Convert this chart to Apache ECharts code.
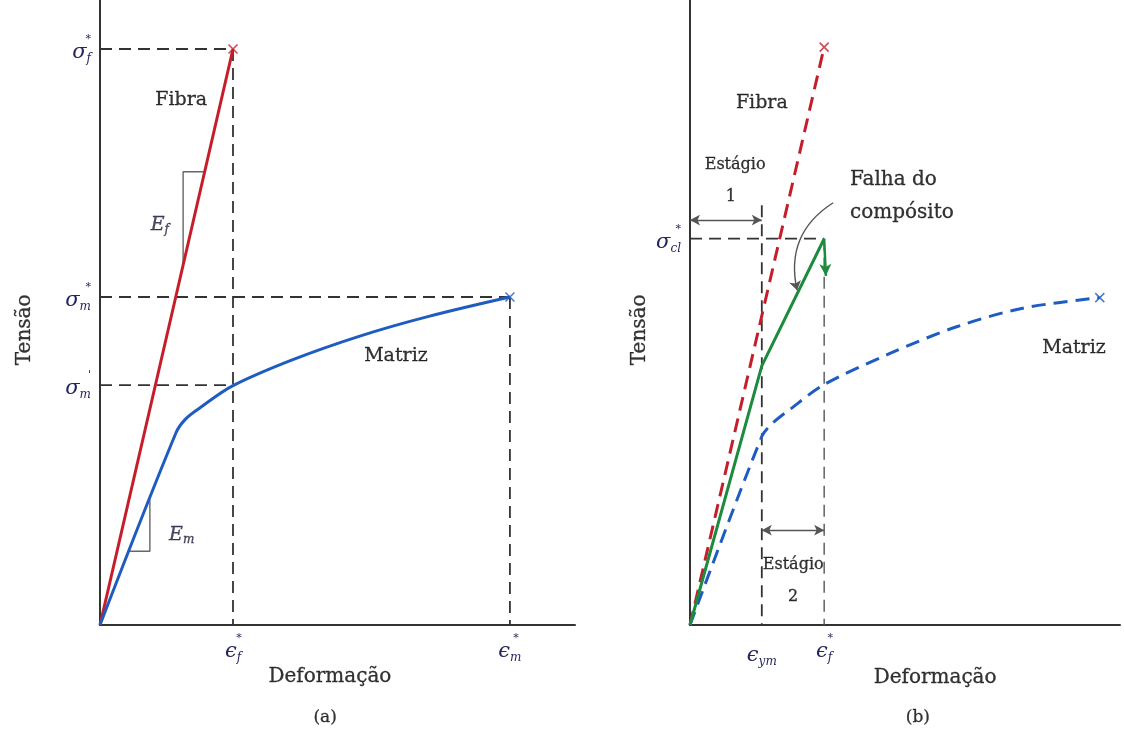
<!DOCTYPE html>
<html><head><meta charset="utf-8">
<script src="https://cdn.jsdelivr.net/npm/echarts@6/dist/echarts.min.js"></script>
<style>html,body{margin:0;padding:0;background:#fff}#c{width:1124px;height:737px}</style>
</head><body><div id="c"></div>
<script>
// ---------- Panel (a) ----------
const epsFa = 28.0, epsMa = 86.3;          // strain ticks (a)
const sigFa = 92.9, sigMa = 52.9, sigMpa = 38.7; // stress ticks (a)
const fibraA = [[0,0],[epsFa,sigFa]];
const matrizA = [[0,0],[16.0,31.0],[18.0,33.2],[21.0,35.0],[28.0,38.6],[40.6,42.8],[54.7,46.6],[68.8,49.7],[86.3,52.9]];
const efTri = [[17.5,58.0],[17.5,73.1],[22.0,73.1]];
const emTri = [[10.5,20.2],[10.5,11.9],[6.3,11.9]];
// ---------- Panel (b) ----------
const epsYm = 16.7, epsFb = 31.2;   // strain ticks (b)
const sigCl = 62.3;                 // stress tick (b)
const fibraB = [[0,0],[31.2,93.2]];
const matrizB = [[0,0],[16.7,30.4],[19.3,32.6],[23.3,34.8],[31.0,38.7],[46.5,43.8],[62.0,48.1],[77.4,51.1],[95.3,52.8]];
const compB = [[0,0],[16.7,41.8],[31.2,62.3]];
const compDrop = [[31.2,62.3],[31.6,56.3]];
const stage1Y = 65.3, stage2Y = 15.3;
const failArrow = [[33.3,68.1],[24.9,54.0]];

const RED='#c41e2b', BLUE='#1f5cc0', GREEN='#1d8a3d', INK='#333', NAVY='#26265e';
const SERIF='DejaVu Serif';

const rich = {
  g:{fontFamily:SERIF,fontStyle:'italic',fontSize:21,color:NAVY,lineHeight:20},
  sub:{fontFamily:SERIF,fontStyle:'italic',fontSize:12,color:NAVY,lineHeight:20,padding:[12,0,0,0]},
  sup:{fontFamily:SERIF,fontSize:11,color:NAVY,lineHeight:8},
  supx:{fontFamily:SERIF,fontSize:11,color:NAVY,lineHeight:8,padding:[0,0,0,12]},
  e:{fontFamily:SERIF,fontStyle:'italic',fontSize:19,color:'#1e1e40'},
  s:{fontFamily:SERIF,fontStyle:'italic',fontSize:12,color:'#1e1e40',padding:[10,0,0,0]}
};
const yLabA = {}; yLabA[sigFa]='{sup|*}\n{g|σ}{sub|f}'; yLabA[sigMa]='{sup|*}\n{g|σ}{sub|m}'; yLabA[sigMpa]="{sup|'}\n{g|σ}{sub|m}";
const xLabA = {}; xLabA[epsFa]='{supx|*}\n{g|ϵ}{sub|f}'; xLabA[epsMa]='{supx|*}\n{g|ϵ}{sub|m}';
const yLabB = {}; yLabB[sigCl]='{sup|*}\n{g|σ}{sub|cl}';
const xLabB = {}; xLabB[epsYm]='\n{g|ϵ}{sub|ym}'; xLabB[epsFb]='{supx|*}\n{g|ϵ}{sub|f}';

function xAxis(gi, max, vals, map){
  return {type:'value',gridIndex:gi,min:0,max:max,
    axisLine:{show:true,onZero:false,lineStyle:{color:INK,width:2}},
    axisTick:{show:false},splitLine:{show:false},
    axisLabel:{customValues:vals,margin:9,formatter:v=>map[v]||'',rich:rich}};
}
function yAxis(gi, max, vals, map){
  return {type:'value',gridIndex:gi,min:0,max:max,
    axisLine:{show:true,onZero:false,lineStyle:{color:INK,width:2}},
    axisTick:{show:false},splitLine:{show:false},
    axisLabel:{customValues:vals,margin:9,formatter:v=>map[v]||'',rich:rich}};
}
function line(gi, data, color, width, dash, extra){
  return Object.assign({type:'line',xAxisIndex:gi,yAxisIndex:gi,data:data,symbol:'none',silent:true,
    lineStyle:{color:color,width:width,type:dash||'solid'},z:3},extra||{});
}
function cross(gi, pt, color){
  return {type:'scatter',xAxisIndex:gi,yAxisIndex:gi,data:[pt],symbol:'path://M0,0L10,10M10,0L0,10',symbolSize:9,
    itemStyle:{color:'none',borderColor:color,borderWidth:1.6},silent:true,z:5};
}
function texts(gi, items){
  return {type:'scatter',xAxisIndex:gi,yAxisIndex:gi,symbolSize:0,clip:false,silent:true,z:6,
    data:items.map(it=>({value:it.at,label:Object.assign({show:true,position:'inside',formatter:it.t,
      fontFamily:SERIF,fontSize:19,color:'#000',textBorderColor:'#000',textBorderWidth:0.3,align:it.align||'center',rich:rich},it.style||{})}))};
}
const DASH=[12,7];
const series = [
  // panel a guides
  line(0, [[0,sigFa],[epsFa,sigFa]], INK, 1.8, DASH),
  line(0, [[epsFa,sigFa],[epsFa,0]], INK, 1.8, DASH),
  line(0, [[0,sigMa],[epsMa,sigMa]], INK, 1.8, DASH),
  line(0, [[epsMa,sigMa],[epsMa,0]], INK, 1.8, DASH),
  line(0, [[0,sigMpa],[epsFa,sigMpa]], INK, 1.8, DASH),
  line(0, efTri, '#666', 1.4),
  line(0, emTri, '#666', 1.4),
  line(0, fibraA, RED, 3),
  line(0, matrizA, BLUE, 3, 'solid', {smooth:0.35}),
  cross(0, fibraA[fibraA.length-1], RED),
  cross(0, matrizA[matrizA.length-1], BLUE),
  texts(0, [
    {t:'Fibra', at:[17.1,84.7]},
    {t:'Matriz', at:[62.3,43.4]},
    {t:'{e|E}{s|f}', at:[12.6,64.5]},
    {t:'{e|E}{s|m}', at:[17.2,14.5]},
    {t:'Tensão', at:[-15.8,47.6], style:{rotate:90,fontSize:20}},
    {t:'Deformação', at:[48.4,-8.4], style:{fontSize:20}},
    {t:'(a)', at:[47.4,-15.0], style:{fontSize:17}}
  ]),
  // panel b guides
  line(1, [[0,sigCl],[epsFb,sigCl]], INK, 1.8, DASH),
  line(1, [[epsYm,67.7],[epsYm,0]], INK, 1.8, DASH),
  line(1, [[epsFb,sigCl],[epsFb,0]], '#555', 1.4, DASH),
  line(1, fibraB, RED, 3, [14,8]),
  line(1, matrizB, BLUE, 3, [14,8], {smooth:0.3}),
  line(1, compB, GREEN, 3, 'solid', {z:4,
    markLine:{silent:true,symbol:['none','arrow'],symbolSize:[9,12],label:{show:false},
      lineStyle:{color:GREEN,width:2.5,type:'solid'},
      data:[[{coord:compDrop[0]},{coord:compDrop[1]}]]}}),
  line(1, [[0,0]], INK, 1, 'solid', {
    markLine:{silent:true,symbol:['arrow','arrow'],symbolSize:[8,10],label:{show:false},
      lineStyle:{color:'#555',width:1.4,type:'solid'},
      data:[[{coord:[0,stage1Y]},{coord:[epsYm,stage1Y]}],[{coord:[epsYm,stage2Y]},{coord:[epsFb,stage2Y]}]]}}),
  {type:'lines',coordinateSystem:'cartesian2d',xAxisIndex:1,yAxisIndex:1,silent:true,z:5,
    symbol:['none','arrow'],symbolSize:9,
    lineStyle:{color:'#555',width:1.4,curveness:-0.35,opacity:1},
    data:[{coords:failArrow}]},
  cross(1, fibraB[fibraB.length-1], RED),
  cross(1, matrizB[matrizB.length-1], BLUE),
  texts(1, [
    {t:'Fibra', at:[16.7,84.2]},
    {t:'Matriz', at:[89.3,44.7]},
    {t:'Estágio', at:[10.5,74.2], style:{fontSize:16}},
    {t:'1', at:[9.5,69.0], style:{fontSize:16}},
    {t:'Estágio', at:[24.0,9.7], style:{fontSize:16}},
    {t:'2', at:[24.0,4.5], style:{fontSize:16}},
    {t:'Falha do', at:[37.2,71.8], align:'left', style:{fontSize:20}},
    {t:'compósito', at:[37.2,66.5], align:'left', style:{fontSize:20}},
    {t:'Tensão', at:[-11.6,47.6], style:{rotate:90,fontSize:20}},
    {t:'Deformação', at:[57.0,-8.5], style:{fontSize:20}},
    {t:'(b)', at:[53.0,-15.0], style:{fontSize:17}}
  ])
];

const chart = echarts.init(document.getElementById('c'));
chart.setOption({
  animation:false,
  backgroundColor:'#fff',
  grid:[{left:100,top:0,width:475,height:625},{left:690,top:0,width:430,height:625}],
  xAxis:[xAxis(0,100,[epsFa,epsMa],xLabA), xAxis(1,100,[epsYm,epsFb],xLabB)],
  yAxis:[yAxis(0,100.8,[sigFa,sigMa,sigMpa],yLabA), yAxis(1,100.8,[sigCl],yLabB)],
  series:series
});
</script></body></html>
